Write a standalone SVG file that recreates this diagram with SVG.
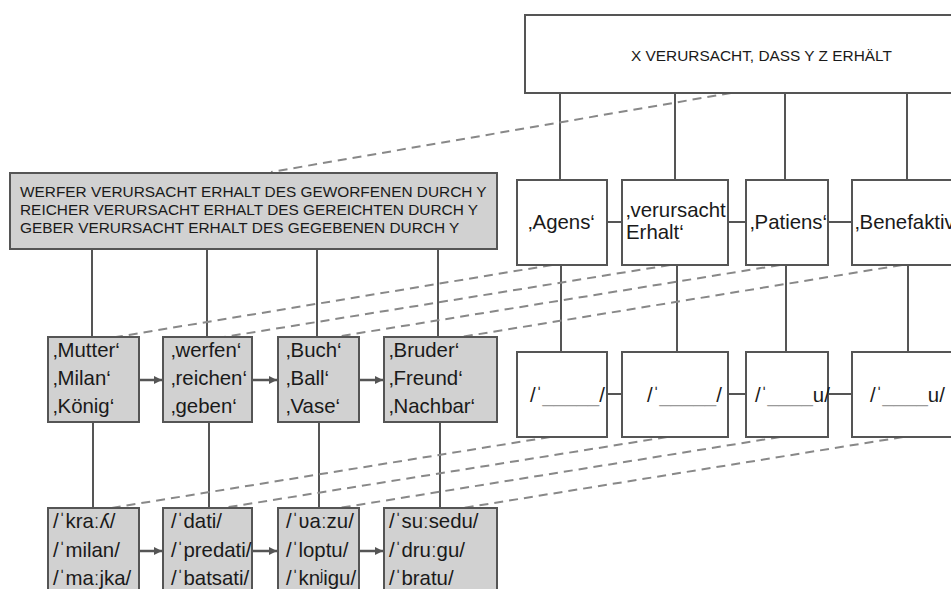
<svg xmlns="http://www.w3.org/2000/svg" width="951" height="589" viewBox="0 0 951 589">
  <defs>
    <marker id="arrow" viewBox="0 0 10 10" refX="10" refY="5" markerWidth="8" markerHeight="8" markerUnits="userSpaceOnUse" orient="auto">
      <path d="M0,0 L10,5 L0,10 z" fill="#555"/>
    </marker>
    <style>
      .box { fill: #ffffff; stroke: #555555; stroke-width: 2; }
      .gbox { fill: #d1d1d1; stroke: #555555; stroke-width: 2; }
      .link { stroke: #555555; stroke-width: 2; fill: none; }
      .arr { stroke: #555555; stroke-width: 2.5; fill: none; marker-end: url(#arrow); }
      .dash { stroke: #888888; stroke-width: 2; stroke-dasharray: 9 6; fill: none; }
      text { font-family: "Liberation Sans", Arial, sans-serif; fill: #1a1a1a; }
      .caps { font-size: 15.4px; }
      .lbl { font-size: 20.4px; }
      .blank { fill: #9a9a9a; }
    </style>
  </defs>
  <rect width="951" height="589" fill="#ffffff"/>

  <!-- connectors -->
  <g id="connectors">
    <!-- frame to role slots -->
    <line class="link" x1="560" y1="93" x2="560" y2="180"/>
    <line class="link" x1="675" y1="93" x2="675" y2="180"/>
    <line class="link" x1="785" y1="93" x2="785" y2="180"/>
    <line class="link" x1="907" y1="93" x2="907" y2="180"/>
    <!-- role slots in a row -->
    <line class="link" x1="607" y1="222" x2="622" y2="222"/>
    <line class="link" x1="728" y1="222" x2="746" y2="222"/>
    <line class="link" x1="828" y1="222" x2="852" y2="222"/>
    <!-- role slots to form slots -->
    <line class="link" x1="561" y1="265" x2="561" y2="352"/>
    <line class="link" x1="677" y1="265" x2="677" y2="352"/>
    <line class="link" x1="786" y1="265" x2="786" y2="352"/>
    <line class="link" x1="908" y1="265" x2="908" y2="352"/>
    <!-- form slots in a row -->
    <line class="link" x1="607" y1="394" x2="622" y2="394"/>
    <line class="link" x1="728" y1="394" x2="746" y2="394"/>
    <line class="link" x1="828" y1="394" x2="852" y2="394"/>
    <!-- verb frames to meanings -->
    <line class="link" x1="92" y1="249" x2="92" y2="337"/>
    <line class="link" x1="207" y1="249" x2="207" y2="337"/>
    <line class="link" x1="317" y1="249" x2="317" y2="337"/>
    <line class="link" x1="438" y1="249" x2="438" y2="337"/>
    <!-- meanings to forms -->
    <line class="link" x1="93" y1="422" x2="93" y2="508"/>
    <line class="link" x1="209" y1="422" x2="209" y2="508"/>
    <line class="link" x1="319" y1="422" x2="319" y2="508"/>
    <line class="link" x1="440" y1="422" x2="440" y2="508"/>
    <!-- arrows between meanings -->
    <line class="arr" x1="139" y1="380" x2="162" y2="380"/>
    <line class="arr" x1="252" y1="380" x2="277" y2="380"/>
    <line class="arr" x1="359" y1="380" x2="383" y2="380"/>
    <!-- arrows between forms -->
    <line class="arr" x1="139" y1="551" x2="162" y2="551"/>
    <line class="arr" x1="252" y1="551" x2="277" y2="551"/>
    <line class="arr" x1="359" y1="551" x2="383" y2="551"/>
    <!-- instantiation links -->
    <line class="dash" x1="731" y1="93" x2="271" y2="172"/>
    <line class="dash" x1="552" y1="265" x2="116" y2="337"/>
    <line class="dash" x1="670" y1="265" x2="224" y2="337"/>
    <line class="dash" x1="780" y1="265" x2="335" y2="337"/>
    <line class="dash" x1="902" y1="265" x2="461" y2="337"/>
    <line class="dash" x1="550" y1="437" x2="111" y2="508"/>
    <line class="dash" x1="667" y1="437" x2="223" y2="508"/>
    <line class="dash" x1="780" y1="437" x2="339" y2="508"/>
    <line class="dash" x1="903" y1="437" x2="463" y2="508"/>
  </g>

  <!-- abstract frame -->
  <g id="frame">
    <rect class="box" x="525" y="15" width="440" height="78"/>
    <text class="caps" x="631" y="61">X VERURSACHT, DASS Y Z ERHÄLT</text>
  </g>

  <!-- role slots -->
  <g id="role-agens">
    <rect class="box" x="517" y="180" width="90" height="85"/>
    <text class="lbl" x="528" y="229">‚Agens‘</text>
  </g>
  <g id="role-erhalt">
    <rect class="box" x="622" y="180" width="106" height="85"/>
    <text class="lbl" x="626" y="217">‚verursacht</text>
    <text class="lbl" x="626" y="239">Erhalt‘</text>
  </g>
  <g id="role-patiens">
    <rect class="box" x="746" y="180" width="82" height="85"/>
    <text class="lbl" x="750" y="229">‚Patiens‘</text>
  </g>
  <g id="role-benefaktiv">
    <rect class="box" x="852" y="180" width="110" height="85"/>
    <text class="lbl" x="855" y="229">‚Benefaktiv‘</text>
  </g>

  <!-- form slots -->
  <g id="form-1">
    <rect class="box" x="517" y="352" width="90" height="85"/>
    <text class="lbl" x="530" y="402">/ˈ<tspan class="blank">_____</tspan>/</text>
  </g>
  <g id="form-2">
    <rect class="box" x="622" y="352" width="106" height="85"/>
    <text class="lbl" x="647" y="402">/ˈ<tspan class="blank">_____</tspan>/</text>
  </g>
  <g id="form-3">
    <rect class="box" x="746" y="352" width="82" height="85"/>
    <text class="lbl" x="755" y="402">/ˈ<tspan class="blank">____</tspan>u/</text>
  </g>
  <g id="form-4">
    <rect class="box" x="852" y="352" width="110" height="85"/>
    <text class="lbl" x="870" y="402">/ˈ<tspan class="blank">____</tspan>u/</text>
  </g>

  <!-- verb frames -->
  <g id="verb-frames">
    <rect class="gbox" x="10" y="173" width="487" height="76"/>
    <text class="caps" x="20" y="197">WERFER VERURSACHT ERHALT DES GEWORFENEN DURCH Y</text>
    <text class="caps" x="20" y="215">REICHER VERURSACHT ERHALT DES GEREICHTEN DURCH Y</text>
    <text class="caps" x="20" y="233">GEBER VERURSACHT ERHALT DES GEGEBENEN DURCH Y</text>
  </g>

  <!-- meanings -->
  <g id="meaning-agens">
    <rect class="gbox" x="48" y="337" width="91" height="85"/>
    <text class="lbl" x="53" y="357">‚Mutter‘</text>
    <text class="lbl" x="53" y="385">‚Milan‘</text>
    <text class="lbl" x="53" y="413">‚König‘</text>
  </g>
  <g id="meaning-verb">
    <rect class="gbox" x="163" y="337" width="89" height="85"/>
    <text class="lbl" x="171" y="357">‚werfen‘</text>
    <text class="lbl" x="171" y="385">‚reichen‘</text>
    <text class="lbl" x="171" y="413">‚geben‘</text>
  </g>
  <g id="meaning-patiens">
    <rect class="gbox" x="278" y="337" width="81" height="85"/>
    <text class="lbl" x="286" y="357">‚Buch‘</text>
    <text class="lbl" x="286" y="385">‚Ball‘</text>
    <text class="lbl" x="286" y="413">‚Vase‘</text>
  </g>
  <g id="meaning-benefaktiv">
    <rect class="gbox" x="384" y="337" width="113" height="85"/>
    <text class="lbl" x="389" y="357">‚Bruder‘</text>
    <text class="lbl" x="389" y="385">‚Freund‘</text>
    <text class="lbl" x="389" y="413">‚Nachbar‘</text>
  </g>

  <!-- phonological forms -->
  <g id="forms-agens">
    <rect class="gbox" x="48" y="508" width="91" height="100"/>
    <text class="lbl" x="53" y="528">/ˈkraːʎ/</text>
    <text class="lbl" x="53" y="557">/ˈmilan/</text>
    <text class="lbl" x="53" y="585">/ˈmaːjka/</text>
  </g>
  <g id="forms-verb">
    <rect class="gbox" x="163" y="508" width="89" height="100"/>
    <text class="lbl" x="171" y="528">/ˈdati/</text>
    <text class="lbl" x="171" y="557">/ˈpredati/</text>
    <text class="lbl" x="171" y="585">/ˈbatsati/</text>
  </g>
  <g id="forms-patiens">
    <rect class="gbox" x="278" y="508" width="81" height="100"/>
    <text class="lbl" x="286" y="528">/ˈʋaːzu/</text>
    <text class="lbl" x="286" y="557">/ˈloptu/</text>
    <text class="lbl" x="286" y="585">/ˈknʲigu/</text>
  </g>
  <g id="forms-benefaktiv">
    <rect class="gbox" x="384" y="508" width="113" height="100"/>
    <text class="lbl" x="389" y="528">/ˈsuːsedu/</text>
    <text class="lbl" x="389" y="557">/ˈdruːgu/</text>
    <text class="lbl" x="389" y="585">/ˈbratu/</text>
  </g>
</svg>
